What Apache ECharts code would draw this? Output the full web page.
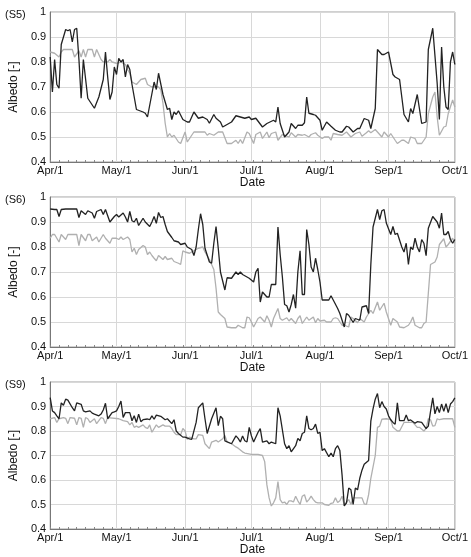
<!doctype html>
<html>
<head>
    <meta charset="utf-8">
    <title>albedo</title>
    <script src="https://cdn.jsdelivr.net/npm/echarts@6/dist/echarts.min.js"></script>
    <style>
        html, body { margin: 0; padding: 0; background: #fff; }
        #container { width: 471px; height: 557px; }
    </style>
</head>
<body>
    <div id="container"></div>
    <script type="text/javascript">
        // month tick labels and their day index (Apr/1 = day 0)
        var monthLabels = ['Apr/1', 'May/1', 'Jun/1', 'Jul/1', 'Aug/1', 'Sep/1', 'Oct/1'];
        var monthStarts = [0, 30, 61, 91, 122, 153, 183];
        var panelNames = ['(S5)', '(S6)', '(S9)'];

        // [day, albedo]; dark = black line, light = grey line
        var s5Dark = [[0,.82],[1,.68],[2,.81],[3,.71],[4,.695],[5,.87],[7,.93],[8,.925],[9,.93],[10,.88],[11,.93],[12,.935],[13,.81],[14,.655],[15,.81],[17,.655],[20,.615],[22,.66],[24,.73],[25,.84],[26,.74],[27,.65],[28,.68],[29,.78],[30,.75],[31,.815],[32,.80],[33,.81],[34,.74],[35,.79],[36,.77],[37,.71],[39,.61],[42,.60],[43,.595],[44,.58],[47,.72],[48,.69],[49,.755],[51,.67],[53,.61],[54,.615],[55,.57],[56,.60],[57,.59],[58,.605],[60,.57],[62,.56],[63,.56],[65,.60],[67,.575],[69,.58],[71,.57],[72,.555],[74,.59],[75,.575],[77,.56],[78,.54],[81,.555],[82,.56],[84,.585],[86,.58],[88,.575],[90,.58],[91,.57],[93,.575],[96,.54],[98,.554],[101,.567],[102,.56],[103,.62],[104,.554],[106,.50],[108,.52],[109,.554],[111,.534],[112,.547],[114,.547],[115,.557],[116,.66],[117,.595],[119,.59],[120,.587],[122,.567],[123,.527],[125,.56],[127,.543],[129,.527],[131,.52],[132,.52],[134,.543],[135,.54],[137,.52],[139,.534],[140,.534],[142,.574],[144,.567],[145,.534],[147,.614],[148,.85],[150,.83],[151,.83],[153,.84],[155,.75],[156,.74],[158,.73],[160,.59],[162,.56],[163,.614],[164,.594],[166,.67],[168,.554],[170,.56],[171,.85],[173,.935],[175,.715],[176,.57],[177,.86],[178,.70],[179,.62],[180,.61],[181,.80],[182,.84],[183,.79]];
        var s5Light = [[0,.84],[2,.835],[4,.82],[5,.84],[6,.85],[10,.85],[11,.82],[13,.845],[14,.82],[15,.85],[16,.82],[17,.85],[19,.85],[20,.82],[21,.85],[22,.83],[23,.81],[24,.80],[26,.80],[27,.81],[28,.80],[30,.795],[32,.80],[34,.79],[35,.77],[36,.755],[37,.72],[39,.71],[41,.73],[43,.735],[44,.71],[46,.70],[49,.70],[50,.69],[51,.635],[52,.555],[53,.50],[54,.514],[55,.50],[56,.507],[58,.48],[59,.474],[61,.52],[62,.48],[64,.507],[65,.52],[70,.52],[71,.507],[72,.514],[74,.507],[76,.52],[78,.52],[80,.474],[82,.474],[84,.487],[85,.474],[86,.49],[87,.474],[89,.52],[90,.514],[92,.474],[93,.51],[95,.52],[96,.494],[98,.52],[99,.497],[100,.514],[102,.52],[103,.487],[105,.51],[106,.507],[108,.50],[109,.517],[111,.50],[112,.51],[114,.507],[115,.51],[117,.50],[118,.51],[120,.517],[121,.507],[123,.494],[124,.50],[126,.50],[127,.487],[128,.514],[130,.51],[132,.507],[134,.52],[136,.50],[138,.514],[140,.52],[141,.503],[143,.517],[144,.525],[145,.517],[147,.53],[148,.52],[150,.50],[151,.52],[153,.50],[154,.514],[156,.487],[157,.474],[159,.487],[160,.487],[162,.474],[163,.50],[165,.494],[166,.474],[168,.474],[170,.50],[171,.594],[173,.66],[174,.68],[175,.58],[176,.507],[178,.54],[179,.543],[180,.594],[182,.648],[183,.62]];

        var s6Dark = [[0,.952],[2,.95],[3,.95],[4,.922],[5,.95],[7,.952],[12,.952],[13,.918],[14,.945],[16,.93],[17,.945],[19,.936],[20,.915],[21,.942],[23,.95],[24,.93],[25,.95],[27,.90],[29,.922],[30,.93],[31,.92],[33,.936],[34,.92],[35,.90],[36,.942],[37,.905],[38,.90],[39,.915],[40,.886],[42,.915],[43,.90],[45,.882],[46,.90],[47,.922],[48,.895],[49,.938],[50,.918],[51,.922],[52,.89],[53,.862],[55,.838],[56,.825],[58,.82],[59,.81],[61,.815],[62,.80],[64,.79],[65,.766],[66,.80],[67,.87],[68,.933],[69,.89],[70,.795],[72,.74],[73,.735],[74,.815],[75,.882],[76,.795],[77,.70],[79,.628],[80,.677],[82,.675],[84,.70],[85,.69],[86,.70],[87,.69],[89,.68],[90,.675],[92,.66],[93,.70],[94,.715],[95,.58],[96,.62],[98,.60],[99,.60],[100,.65],[102,.65],[103,.88],[104,.77],[105,.68],[106,.57],[107,.565],[108,.54],[109,.57],[110,.61],[111,.555],[112,.70],[113,.785],[114,.61],[115,.61],[116,.87],[117,.81],[118,.72],[119,.70],[120,.755],[121,.71],[122,.66],[123,.588],[126,.588],[127,.605],[128,.588],[130,.554],[131,.534],[133,.48],[134,.534],[135,.527],[137,.498],[138,.514],[140,.507],[141,.56],[143,.565],[144,.534],[145,.73],[146,.88],[148,.95],[149,.91],[150,.945],[151,.95],[152,.896],[154,.85],[155,.882],[156,.85],[157,.855],[159,.80],[160,.78],[161,.815],[162,.73],[163,.80],[164,.79],[165,.835],[166,.80],[167,.78],[168,.83],[169,.815],[170,.765],[171,.875],[173,.922],[175,.90],[176,.875],[177,.936],[178,.85],[179,.85],[180,.862],[181,.83],[182,.815],[183,.83]];
        var s6Light = [[0,.835],[1,.85],[2,.85],[4,.82],[5,.85],[7,.83],[8,.85],[12,.85],[13,.806],[14,.85],[16,.825],[17,.85],[18,.85],[19,.825],[21,.84],[22,.82],[24,.85],[25,.835],[27,.815],[28,.835],[30,.835],[31,.83],[32,.84],[33,.83],[35,.84],[36,.83],[37,.78],[38,.795],[39,.77],[40,.79],[42,.806],[43,.80],[44,.77],[45,.78],[46,.766],[47,.755],[48,.745],[49,.766],[51,.75],[52,.762],[53,.75],[55,.755],[56,.742],[58,.735],[59,.73],[60,.785],[61,.78],[63,.775],[64,.78],[66,.79],[67,.795],[69,.80],[70,.78],[72,.75],[73,.73],[74,.71],[75,.635],[76,.54],[77,.53],[79,.514],[80,.48],[82,.477],[84,.477],[85,.487],[87,.477],[88,.477],[89,.52],[90,.517],[91,.50],[92,.48],[94,.514],[95,.52],[97,.50],[98,.525],[99,.507],[100,.48],[101,.514],[103,.554],[104,.514],[105,.507],[107,.517],[108,.504],[109,.514],[111,.494],[112,.514],[113,.525],[114,.494],[116,.52],[117,.507],[119,.52],[120,.497],[121,.514],[122,.504],[124,.507],[125,.50],[127,.50],[128,.514],[129,.517],[130,.514],[132,.487],[133,.487],[135,.48],[136,.52],[137,.514],[139,.497],[140,.514],[142,.50],[143,.52],[145,.547],[146,.534],[148,.58],[149,.547],[151,.575],[152,.54],[154,.487],[155,.514],[157,.50],[158,.48],[160,.477],[162,.487],[163,.50],[164,.52],[165,.487],[167,.477],[168,.477],[169,.494],[170,.50],[171,.615],[172,.73],[174,.74],[175,.76],[176,.81],[178,.833],[179,.80],[180,.81],[182,.835],[183,.815]];

        var s9Dark = [[0,.936],[1,.882],[2,.875],[3,.862],[4,.85],[5,.915],[6,.905],[7,.93],[8,.926],[10,.895],[11,.882],[12,.915],[14,.909],[15,.882],[16,.878],[18,.882],[19,.873],[20,.869],[22,.862],[23,.869],[24,.886],[25,.913],[26,.85],[28,.875],[29,.878],[30,.882],[31,.90],[32,.922],[33,.855],[34,.875],[36,.875],[37,.842],[38,.862],[39,.835],[40,.869],[41,.838],[42,.846],[44,.849],[45,.846],[46,.862],[47,.848],[48,.865],[50,.86],[52,.846],[53,.85],[55,.83],[56,.846],[57,.80],[58,.79],[60,.775],[61,.775],[63,.768],[64,.766],[66,.835],[67,.895],[69,.915],[70,.85],[71,.79],[73,.85],[75,.895],[76,.822],[77,.86],[78,.85],[79,.76],[81,.752],[82,.748],[84,.78],[85,.77],[86,.755],[87,.78],[88,.76],[89,.755],[90,.815],[91,.78],[92,.755],[94,.795],[95,.81],[96,.755],[98,.76],[99,.748],[100,.755],[102,.748],[103,.895],[104,.862],[106,.748],[107,.728],[108,.74],[109,.715],[111,.74],[112,.77],[113,.76],[114,.79],[115,.795],[116,.862],[117,.81],[118,.805],[119,.81],[120,.828],[121,.79],[122,.795],[123,.72],[124,.728],[126,.695],[127,.71],[128,.695],[129,.728],[130,.74],[131,.72],[132,.62],[133,.494],[134,.507],[135,.567],[136,.56],[137,.50],[138,.567],[139,.56],[140,.607],[141,.64],[142,.664],[144,.68],[145,.84],[146,.89],[147,.93],[148,.953],[149,.895],[150,.92],[151,.90],[152,.89],[153,.862],[154,.846],[155,.835],[156,.828],[157,.915],[158,.842],[160,.842],[161,.865],[162,.842],[163,.845],[165,.832],[166,.838],[168,.835],[170,.81],[171,.82],[172,.88],[173,.935],[174,.87],[175,.90],[176,.875],[177,.91],[178,.88],[179,.912],[180,.875],[181,.91],[182,.92],[183,.935]];
        var s9Light = [[0,.85],[2,.855],[3,.835],[4,.85],[6,.855],[7,.852],[8,.83],[9,.855],[11,.852],[12,.825],[13,.855],[14,.852],[15,.815],[16,.855],[17,.85],[18,.835],[20,.85],[21,.83],[22,.842],[23,.855],[24,.852],[25,.83],[26,.855],[31,.85],[33,.842],[35,.838],[36,.825],[37,.835],[38,.815],[39,.82],[40,.815],[42,.825],[43,.815],[44,.81],[45,.825],[46,.795],[48,.825],[49,.815],[51,.825],[52,.82],[54,.82],[55,.81],[56,.795],[57,.785],[59,.785],[60,.81],[61,.80],[62,.766],[63,.775],[65,.768],[66,.768],[67,.785],[69,.782],[70,.748],[72,.728],[73,.755],[75,.762],[76,.755],[78,.768],[79,.782],[80,.755],[82,.748],[84,.735],[85,.73],[87,.715],[88,.71],[91,.705],[94,.705],[96,.70],[97,.675],[98,.58],[99,.527],[100,.494],[101,.507],[102,.527],[103,.594],[104,.52],[105,.507],[106,.51],[107,.50],[108,.515],[109,.515],[110,.51],[111,.534],[112,.515],[113,.50],[114,.534],[115,.54],[116,.51],[117,.52],[118,.534],[119,.52],[120,.51],[121,.507],[123,.507],[124,.50],[126,.497],[127,.505],[128,.507],[129,.527],[130,.508],[131,.515],[132,.534],[133,.497],[134,.51],[135,.52],[136,.50],[137,.527],[139,.527],[141,.527],[142,.503],[143,.50],[144,.54],[145,.607],[147,.70],[148,.815],[149,.82],[150,.848],[152,.85],[154,.846],[155,.815],[157,.80],[158,.80],[160,.835],[162,.835],[164,.835],[166,.815],[167,.815],[169,.80],[170,.81],[171,.85],[172,.846],[173,.82],[174,.822],[175,.85],[176,.846],[178,.85],[180,.85],[182,.85],[183,.815]];

        var panels = [[s5Dark, s5Light], [s6Dark, s6Light], [s9Dark, s9Light]];
        var panelTops = [12, 197, 382];

        // one category per day, Apr/1 .. Oct/1
        var days = [];
        for (var d = 0; d <= monthStarts[monthStarts.length - 1]; d++) {
            days.push('d' + d);
        }

        var font = 'Liberation Sans, Arial, sans-serif';
        var grids = [], xAxes = [], yAxes = [], series = [], titles = [];

        for (var p = 0; p < panels.length; p++) {
            grids.push({
                left: 44, width: 414, top: panelTops[p], height: 150,
                show: true, borderColor: '#a0a0a0', borderWidth: 1, backgroundColor: 'transparent'
            });
            titles.push({
                text: panelNames[p], left: 0, top: panelTops[p] - 8,
                textStyle: { fontFamily: font, fontSize: 11, fontWeight: 'normal', color: '#111' }
            });
            xAxes.push({
                type: 'category', gridIndex: p, data: days, boundaryGap: false,
                name: 'Date', nameLocation: 'middle', nameGap: 15,
                nameTextStyle: { fontFamily: font, fontSize: 12, color: '#111' },
                axisLine: { lineStyle: { color: '#777', width: 1 } },
                axisTick: {
                    inside: true, length: 2, lineStyle: { color: '#888' },
                    interval: function (i) { return i % 4 === 0; }
                },
                axisLabel: {
                    fontFamily: font, fontSize: 11, color: '#111', margin: 3,
                    interval: function (i) { return monthStarts.indexOf(i) >= 0; },
                    formatter: function (v, i) {
                        var k = monthStarts.indexOf(i);
                        return k >= 0 ? monthLabels[k] : '';
                    }
                },
                splitLine: {
                    show: true, lineStyle: { color: '#d8d8d8', width: 1 },
                    interval: function (i) { return monthStarts.indexOf(i) >= 0; }
                }
            });
            yAxes.push({
                type: 'value', gridIndex: p, min: 0.4, max: 1, interval: 0.1,
                name: 'Albedo [-]', nameLocation: 'middle', nameGap: 30,
                nameTextStyle: { fontFamily: font, fontSize: 12, color: '#111' },
                axisLine: { show: true, lineStyle: { color: '#777', width: 1 } },
                axisTick: { show: false },
                axisLabel: {
                    fontFamily: font, fontSize: 11, color: '#111', margin: 4,
                    formatter: function (v) { return Math.abs(v - 1) < 1e-9 ? '1' : v.toFixed(1); }
                },
                splitLine: { show: true, lineStyle: { color: '#d8d8d8', width: 1 } }
            });
            series.push({
                type: 'line', xAxisIndex: p, yAxisIndex: p, data: panels[p][1],
                symbol: 'none', lineStyle: { color: '#b0b0b0', width: 1.3 }, z: 2
            });
            series.push({
                type: 'line', xAxisIndex: p, yAxisIndex: p, data: panels[p][0],
                symbol: 'none', lineStyle: { color: '#222', width: 1.3 }, z: 3
            });
        }

        var option = {
            animation: false,
            backgroundColor: '#fff',
            title: titles,
            grid: grids,
            xAxis: xAxes,
            yAxis: yAxes,
            series: series
        };

        var myChart = echarts.init(document.getElementById('container'), null, { renderer: 'canvas' });
        myChart.setOption(option);
    </script>
</body>
</html>
